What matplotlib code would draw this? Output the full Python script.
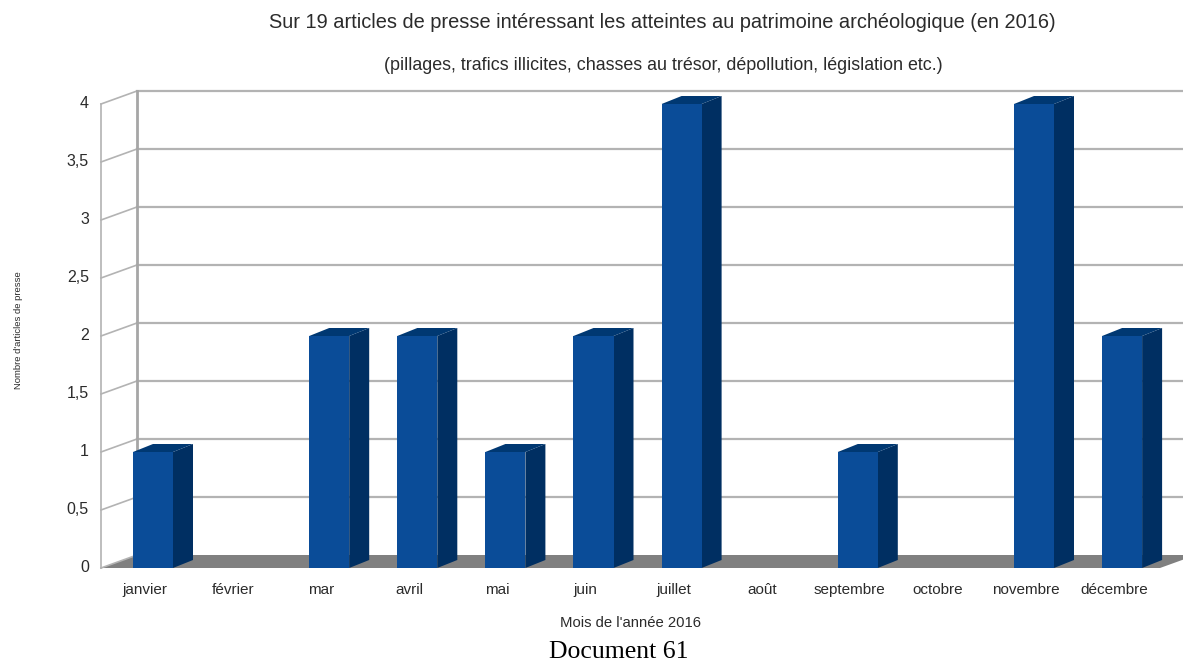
import matplotlib.pyplot as plt
from matplotlib.patches import Polygon

mois = ['janvier', 'février', 'mar', 'avril', 'mai', 'juin', 'juillet',
        'août', 'septembre', 'octobre', 'novembre', 'décembre']
articles = [1, 0, 2, 2, 1, 2, 4, 0, 1, 0, 4, 2]
yticks = [0, 0.5, 1, 1.5, 2, 2.5, 3, 3.5, 4]
ytick_labels = ['0', '0,5', '1', '1,5', '2', '2,5', '3', '3,5', '4']

fig = plt.figure(figsize=(11.83, 6.64), dpi=100)
ax = fig.add_axes([0, 0, 1, 1])
# 1 category = 88.1 px, 1 unit = 116 px
ax.set_xlim((0 - 153) / 88.1, (1183 - 153) / 88.1)
ax.set_ylim((568 - 664) / 116, (568 - 0) / 116)
ax.axis('off')

# 3D depth of the walls and of the bars
x0 = (101 - 153) / 88.1
dx, dy = 36 / 88.1, 13 / 116
bw = 40 / 88.1
bdx, bdy = 20 / 88.1, 8 / 116
xr = 12.0
xfloor = (1160 - 153) / 88.1

txt = '#2b2b2b'
grid = '#b3b3b3'
# floor
ax.add_patch(Polygon([(x0, 0), (xfloor, 0), (xfloor + dx, dy), (x0 + dx, dy)],
                     closed=True, fc='#808080', ec='none', zorder=1))
# gridlines on left wall and back wall
for v in yticks[1:]:
    ax.plot([x0, x0 + dx], [v, v + dy], color=grid, lw=1.2, zorder=1)
    ax.plot([x0 + dx, xr], [v + dy, v + dy], color=grid, lw=1.6, zorder=1)
ax.plot([x0, x0], [0, 4], color=grid, lw=1.2, zorder=1)
ax.plot([x0 + dx, x0 + dx], [dy, 4 + dy], color='#a6a6a6', lw=2, zorder=1)
ax.plot([x0, x0 + dx], [0, dy], color=grid, lw=1.2, zorder=1)

for v, lab in zip(yticks, ytick_labels):
    ax.text(x0 - 12 / 88.1, v, lab, ha='right', va='center', fontsize=11.5,
            family='Liberation Sans', color=txt)

# bars
for i, v in enumerate(articles):
    if v == 0:
        continue
    l, r = i - bw / 2, i + bw / 2
    ax.add_patch(Polygon([(r, 0), (r + bdx, bdy), (r + bdx, v + bdy), (r, v)],
                         closed=True, fc='#002f62', ec='none', zorder=3))
    ax.add_patch(Polygon([(l, v), (r, v), (r + bdx, v + bdy), (l + bdx, v + bdy)],
                         closed=True, fc='#003872', ec='none', zorder=3))
    ax.add_patch(Polygon([(l, 0), (r, 0), (r, v), (l, v)],
                         closed=True, fc='#0a4c98', ec='none', zorder=4))

for i, lab in enumerate(mois):
    ax.text(i - 8 / 88.1, -22 / 116, lab, ha='center', va='center', fontsize=11,
            family='Liberation Sans', color=txt)

fig.text(662 / 1183, 1 - 22 / 664,
         "Sur 19 articles de presse intéressant les atteintes au patrimoine archéologique (en 2016)",
         ha='center', va='center', fontsize=14.4, family='Liberation Sans', color=txt)
fig.text(663 / 1183, 1 - 65 / 664,
         "(pillages, trafics illicites, chasses au trésor, dépollution, législation etc.)",
         ha='center', va='center', fontsize=12.9, family='Liberation Sans', color=txt)
fig.text(19 / 1183, 1 - 330 / 664, "Nombre d'articles de presse", rotation=90,
         ha='center', va='center', fontsize=6.8, family='Liberation Sans', color=txt)
fig.text(631 / 1183, 1 - 623 / 664, "Mois de l'année 2016",
         ha='center', va='center', fontsize=10.7, family='Liberation Sans', color=txt)
fig.text(619 / 1183, 1 - 652 / 664, "Document 61",
         ha='center', va='center', fontsize=18.5, family='Liberation Serif', color='black')

fig.savefig('out.png', dpi=100)
